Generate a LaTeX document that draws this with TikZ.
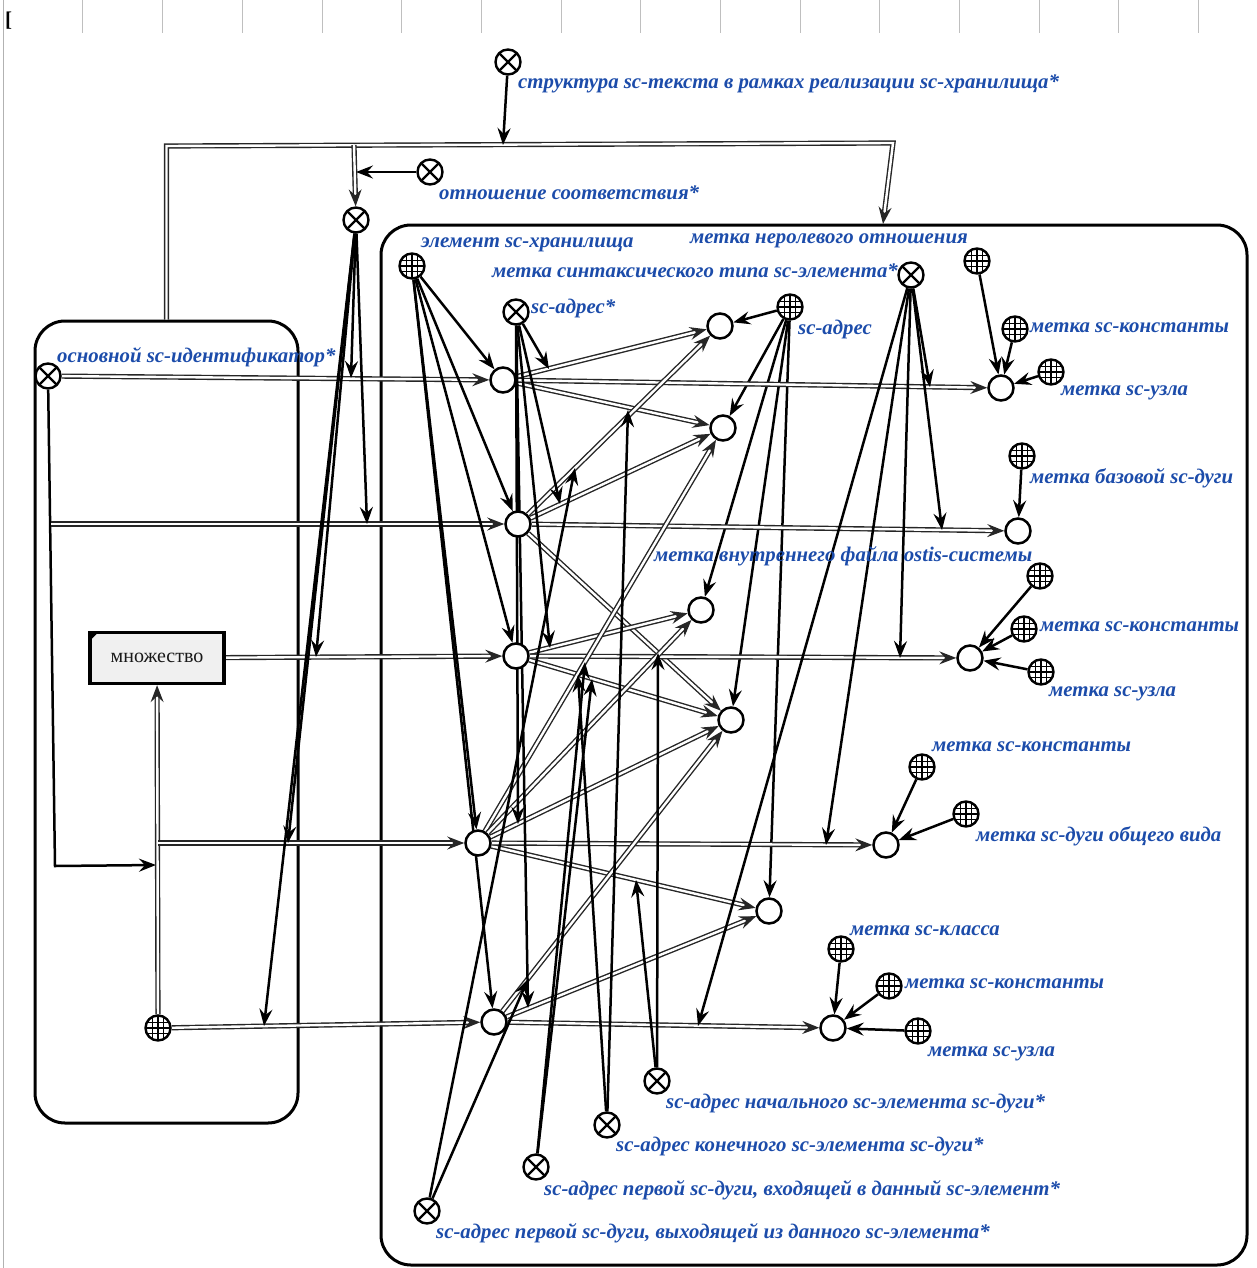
\documentclass[tikz,border=0pt]{standalone}
\usepackage{fontspec}
\setmainfont{Liberation Serif}
\usetikzlibrary{arrows.meta,calc}
\definecolor{lblue}{RGB}{28,76,170}
\pgfdeclarelayer{back}
\pgfdeclarelayer{edges}
\pgfsetlayers{back,edges,main}
\begin{document}
\begin{tikzpicture}[x=1pt,y=-1pt,
  rel/.style={circle,draw,line width=2.4pt,fill=white,minimum size=25pt,inner sep=0pt,
    path picture={\draw[line width=2.2pt] (path picture bounding box.north west)--(path picture bounding box.south east) (path picture bounding box.north east)--(path picture bounding box.south west);}},
  cls/.style={circle,draw,line width=2.4pt,fill=white,minimum size=25pt,inner sep=0pt,
    path picture={\foreach \d in {-5.5,0,5.5}{\draw[line width=1.1pt] ([xshift=\d pt]path picture bounding box.north) -- ([xshift=\d pt]path picture bounding box.south) ([yshift=\d pt]path picture bounding box.west) -- ([yshift=\d pt]path picture bounding box.east);}}},
  nd/.style={circle,draw,line width=2.5pt,fill=white,minimum size=25pt,inner sep=0pt},
  arr/.style={line width=2.5pt,-{Stealth[length=17pt,width=13pt,inset=6pt]}},
  dbl/.style={draw=black!85,line width=1.4pt,double=white,double distance=2.4pt,-{Stealth[length=17pt,width=13pt,inset=6pt]}},
  lab/.style={text=lblue,font=\fontsize{20.8}{24}\selectfont\bfseries\itshape,inner sep=0pt},
  container/.style={draw,line width=3pt,rounded corners=30pt,inner sep=0pt},
  setbox/.style={draw,line width=3.4pt,fill=black!6,minimum width=134pt,minimum height=51pt,inner sep=0pt,text=black!90,font=\fontsize{20}{22}\selectfont},
]
\useasboundingbox (0,0) rectangle (1256,1268);
% header
\foreach \x in {82,162,242,322,401,481,561,640,720,800,879,959,1039,1118,1198}
  \draw[black!25,line width=0.8pt] (\x,0) -- (\x,33);
\draw[black!30,line width=0.8pt] (3,0) -- (3,1268);
\node[anchor=west,inner sep=0pt,font=\fontsize{21}{21}\selectfont\bfseries] (brk) at (5,21) {[};

% containers
\begin{pgfonlayer}{back}
\node[container,minimum width=263pt,minimum height=802pt] (LB) at (166.5,722) {};
\node[container,minimum width=866pt,minimum height=1040pt] (RB) at (814,745) {};
\end{pgfonlayer}

% nodes
\node[rel] (S) at (508,62) {};
\node[rel] (K) at (430,172) {};
\node[rel] (R) at (356,220) {};
\node[rel] (I) at (48,376) {};
\node[cls] (E) at (412,266) {};
\node[rel] (A) at (516,312) {};
\node[cls] (B) at (790,307) {};
\node[rel] (T) at (911,275) {};
\node[cls] (G) at (158,1028) {};
\node[setbox] (M) at (157,658) {множество};
\fill ([shift={(1.7pt,-1.7pt)}]M.north west) -- ++(8pt,0pt) -- ++(-8pt,-8pt) -- cycle;

\node[nd] (N1) at (503,380) {};
\node[nd] (N2) at (518,524) {};
\node[nd] (N3) at (516,656) {};
\node[nd] (N4) at (478,843) {};
\node[nd] (N5) at (494,1022) {};
\node[nd] (a1) at (720,326) {};
\node[nd] (a2) at (723,428) {};
\node[nd] (a3) at (701,610) {};
\node[nd] (a4) at (731,720) {};
\node[nd] (a5) at (769,911) {};
\node[nd] (t1) at (1001,388) {};
\node[nd] (t2) at (1018,531) {};
\node[nd] (t3) at (970,658) {};
\node[nd] (t4) at (886,845) {};
\node[nd] (t5) at (833,1028) {};

\node[cls] (c1) at (977,261) {};
\node[cls] (c2) at (1015,329) {};
\node[cls] (c3) at (1051,372) {};
\node[cls] (c4) at (1022,456) {};
\node[cls] (c5) at (1040,576) {};
\node[cls] (c6) at (1024,629) {};
\node[cls] (c7) at (1041,672) {};
\node[cls] (c8) at (922,767) {};
\node[cls] (c9) at (966,814) {};
\node[cls] (c10) at (841,949) {};
\node[cls] (c11) at (889,986) {};
\node[cls] (c12) at (918,1031) {};

\node[rel] (P1) at (657,1081) {};
\node[rel] (P2) at (607,1125) {};
\node[rel] (P3) at (536,1167) {};
\node[rel] (P4) at (427,1211) {};

% labels
\node[lab,anchor=west] (lS) at (518,84) {структура sc-текста в рамках реализации sc-хранилища*};
\node[lab,anchor=west] (lK) at (439,193) {отношение соответствия*};
\node[lab,anchor=west] (lE) at (421,245) {элемент sc-хранилища};
\node[lab,anchor=west] (lC1) at (690,241) {метка неролевого отношения};
\node[lab,anchor=east] (lT) at (898,271) {метка синтаксического типа sc-элемента*};
\node[lab,anchor=west] (lA) at (531,308) {sc-адрес*};
\node[lab,anchor=west] (lB) at (798,329) {sc-адрес};
\node[lab,anchor=west] (lI) at (57,357) {основной sc-идентификатор*};
\node[lab,anchor=west] (lC2) at (1030,328) {метка sc-константы};
\node[lab,anchor=west] (lC3) at (1061,393) {метка sc-узла};
\node[lab,anchor=west] (lC4) at (1030,478) {метка базовой sc-дуги};
\node[lab,anchor=west] (lC5) at (654,556) {метка внутреннего файла ostis-системы};
\node[lab,anchor=west] (lC6) at (1040,627) {метка sc-константы};
\node[lab,anchor=west] (lC7) at (1049,694) {метка sc-узла};
\node[lab,anchor=west] (lC8) at (932,747) {метка sc-константы};
\node[lab,anchor=west] (lC9) at (976,836) {метка sc-дуги общего вида};
\node[lab,anchor=west] (lC10) at (850,931) {метка sc-класса};
\node[lab,anchor=west] (lC11) at (905,984) {метка sc-константы};
\node[lab,anchor=west] (lC12) at (928,1054) {метка sc-узла};
\node[lab,anchor=west] (lP1) at (666,1104) {sc-адрес начального sc-элемента sc-дуги*};
\node[lab,anchor=west] (lP2) at (616,1147) {sc-адрес конечного sc-элемента sc-дуги*};
\node[lab,anchor=west] (lP3) at (544,1190) {sc-адрес первой sc-дуги, входящей в данный sc-элемент*};
\node[lab,anchor=west] (lP4) at (436,1233) {sc-адрес первой sc-дуги, выходящей из данного sc-элемента*};

% coordinates (points on connectors)
\coordinate (arcTL) at (166.5,146);
\coordinate (arcTR) at (893,143);
\coordinate (arcEnd) at (883,224);
\coordinate (arcM) at (503,145);
\coordinate (arcB) at (354,145);
\coordinate (kT) at (356,172);
\coordinate (iTurn) at (55,866);
\coordinate (iEnd) at (156,865);
\coordinate (iB) at (51,524);
\coordinate (gB) at (158,843);
\coordinate (r1) at (351,378);
\coordinate (r2) at (367,524);
\coordinate (r3) at (316,657);
\coordinate (r4) at (288,843);
\coordinate (r5) at (264,1026);
\coordinate (sA1) at (549,369);
\coordinate (sA2) at (560,504);
\coordinate (sA3) at (550,648);
\coordinate (sA4) at (518,824);
\coordinate (sA5) at (528,1008);
\coordinate (tT1) at (930,387);
\coordinate (tT2) at (942,530);
\coordinate (tT3) at (900,658);
\coordinate (tT4) at (826,845);
\coordinate (tT5) at (698,1026);
\coordinate (p11) at (658,653);
\coordinate (p12) at (636,880);
\coordinate (p21) at (628,410);
\coordinate (p22) at (578,675);
\coordinate (p31) at (592,679);
\coordinate (p32) at (585,662);
\coordinate (p41) at (575,468);
\coordinate (p42) at (528,979);

\begin{pgfonlayer}{edges}
% top structure
\draw[dbl] (LB.north) -- (arcTL) -- (arcTR) -- (arcEnd);
\draw[dbl] (arcB) -- (R);
\draw[arr] (S) -- (arcM);
\draw[arr] (K) -- (kT);
% left part
\draw[dbl] (I) -- (N1);
\draw[arr] (I) -- (iTurn) -- (iEnd);
\draw[dbl] (iB) -- (N2);
\draw[dbl] (M) -- (N3);
\draw[dbl] (G) -- (M);
\draw[dbl] (gB) -- (N4);
\draw[dbl] (G) -- (N5);
\foreach \p in {r1,r2,r3,r4,r5} \draw[arr] (R) -- (\p);
% element class
\foreach \n in {N1,N2,N3,N4,N5} \draw[arr] (E) -- (\n);
% address class
\foreach \n in {a1,a2,a3,a4,a5} \draw[arr] (B) -- (\n);
% pairs
\draw[dbl] (N1) -- (a1); \draw[dbl] (N1) -- (a2); \draw[dbl] (N1) -- (t1);
\draw[dbl] (N2) -- (a1); \draw[dbl] (N2) -- (a2); \draw[dbl] (N2) -- (a4); \draw[dbl] (N2) -- (t2);
\draw[dbl] (N3) -- (a3); \draw[dbl] (N3) -- (a4); \draw[dbl] (N3) -- (t3);
\draw[dbl] (N4) -- (a2); \draw[dbl] (N4) -- (a3); \draw[dbl] (N4) -- (a4); \draw[dbl] (N4) -- (a5); \draw[dbl] (N4) -- (t4);
\draw[dbl] (N5) -- (a4); \draw[dbl] (N5) -- (a5); \draw[dbl] (N5) -- (t5);
% relation memberships
\foreach \p in {sA1,sA2,sA3,sA4,sA5} \draw[arr] (A) -- (\p);
\foreach \p in {tT1,tT2,tT3,tT4,tT5} \draw[arr] (T) -- (\p);
\draw[arr] (P1) -- (p11); \draw[arr] (P1) -- (p12);
\draw[arr] (P2) -- (p21); \draw[arr] (P2) -- (p22);
\draw[arr] (P3) -- (p31); \draw[arr] (P3) -- (p32);
\draw[arr] (P4) -- (p41); \draw[arr] (P4) -- (p42);
% type marks
\draw[arr] (c1) -- (t1); \draw[arr] (c2) -- (t1); \draw[arr] (c3) -- (t1);
\draw[arr] (c4) -- (t2);
\draw[arr] (c5) -- (t3); \draw[arr] (c6) -- (t3); \draw[arr] (c7) -- (t3);
\draw[arr] (c8) -- (t4); \draw[arr] (c9) -- (t4);
\draw[arr] (c10) -- (t5); \draw[arr] (c11) -- (t5); \draw[arr] (c12) -- (t5);
\end{pgfonlayer}
\end{tikzpicture}
\end{document}
